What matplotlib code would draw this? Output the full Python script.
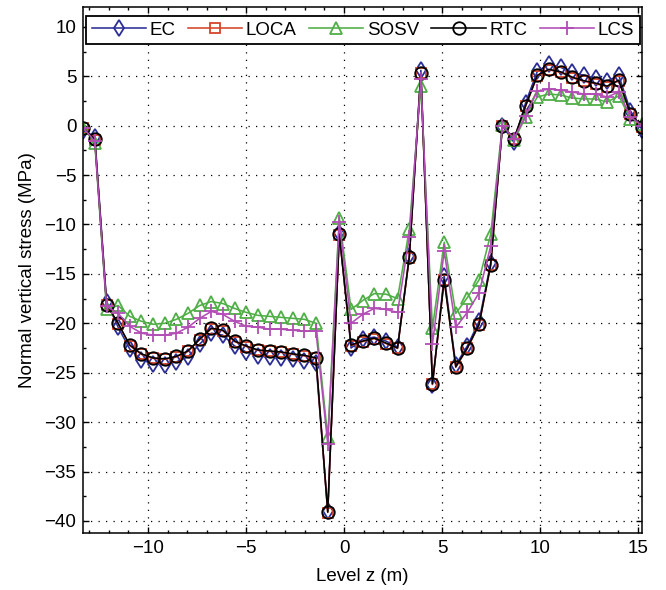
import matplotlib
matplotlib.use("Agg")
import matplotlib.pyplot as plt

plt.rcParams['font.family'] = ['Liberation Sans', 'DejaVu Sans']
plt.rcParams['font.size'] = 13.5

z = [-13.30, -12.71, -12.11, -11.52, -10.93, -10.33, -9.74, -9.14, -8.55, -7.96,
     -7.36, -6.77, -6.18, -5.58, -4.99, -4.39, -3.80, -3.21, -2.61, -2.02,
     -1.43, -0.83, -0.24, 0.36, 0.95, 1.54, 2.14, 2.73, 3.33, 3.92,
     4.51, 5.11, 5.70, 6.29, 6.89, 7.48, 8.08, 8.67, 9.26, 9.86,
     10.45, 11.05, 11.64, 12.23, 12.83, 13.42, 14.01, 14.61, 15.20]

ec = [-0.5, -1.1, -17.8, -20.4, -22.6, -23.7, -24.1, -24.2, -23.9, -23.4,
      -22.1, -21.0, -21.2, -22.3, -22.9, -23.3, -23.4, -23.5, -23.6, -23.8,
      -24.0, -39.0, -10.9, -22.5, -21.6, -21.4, -21.8, -22.4, -13.2, 5.6,
      -26.2, -15.2, -24.2, -22.3, -19.8, -13.9, 0.0, -1.7, 2.3, 5.5,
      6.2, 5.9, 5.4, 5.1, 4.8, 4.5, 5.1, 1.5, -0.4]

loca = [-0.25, -1.45, -18.1, -20.05, -22.25, -23.15, -23.55, -23.65, -23.4, -22.85,
        -21.65, -20.55, -20.75, -21.85, -22.35, -22.75, -22.85, -22.95, -23.15, -23.3,
        -23.55, -39.15, -11.05, -22.25, -21.85, -21.55, -22.05, -22.55, -13.35, 5.3,
        -26.15, -15.65, -24.45, -22.55, -20.15, -14.15, 0.0, -1.35, 1.95, 5.05,
        5.65, 5.4, 4.85, 4.5, 4.25, 3.95, 4.55, 1.15, -0.15]

sosv = [-0.2, -1.8, -18.6, -18.2, -19.3, -19.8, -20.1, -20.0, -19.6, -19.0,
        -18.2, -17.8, -18.0, -18.5, -18.9, -19.2, -19.3, -19.4, -19.5, -19.6,
        -20.0, -31.5, -9.3, -18.6, -17.7, -17.0, -17.05, -17.5, -10.5, 4.0,
        -20.5, -11.8, -19.0, -17.4, -15.6, -11.0, 0.1, -1.5, 0.85, 2.9,
        3.2, 3.1, 2.8, 2.7, 2.7, 2.4, 3.0, 0.7, 0.2]

rtc = [-0.2, -1.4, -18.1, -20.0, -22.2, -23.1, -23.5, -23.6, -23.35, -22.8,
       -21.6, -20.5, -20.7, -21.8, -22.3, -22.7, -22.8, -22.9, -23.1, -23.25,
       -23.5, -39.1, -11.0, -22.2, -21.8, -21.5, -22.0, -22.5, -13.3, 5.35,
       -26.1, -15.6, -24.4, -22.5, -20.1, -14.1, 0.0, -1.3, 2.0, 5.1,
       5.7, 5.45, 4.9, 4.55, 4.3, 4.0, 4.6, 1.2, -0.1]

lcs = [-0.2, -1.6, -18.3, -19.0, -20.3, -21.0, -21.2, -21.2, -21.0, -20.4,
       -19.5, -18.8, -19.1, -19.8, -20.3, -20.4, -20.6, -20.6, -20.7, -20.8,
       -20.8, -32.2, -9.7, -20.0, -19.1, -18.5, -18.6, -18.9, -11.3, 4.7,
       -22.1, -12.7, -20.4, -18.9, -16.9, -12.2, 0.0, -1.3, 1.0, 3.5,
       3.7, 3.6, 3.4, 3.2, 3.2, 2.9, 3.4, 0.9, 0.0]

labels = ['EC', 'LOCA', 'SOSV', 'RTC', 'LCS']
colors = ['#2b2e96', '#d5432b', '#4fae46', '#000000', '#b24db5']
markers = ['d', 's', '^', 'o', '+']
msizes = [8.5, 7, 9, 9, 10]
series = [ec, loca, sosv, rtc, lcs]

fig = plt.figure(figsize=(6.66, 5.90), dpi=100)
ax = fig.add_axes([0.125, 0.097, 0.839, 0.891])

for y, lab, c, m, ms in zip(series, labels, colors, markers, msizes):
    ax.plot(z, y, color=c, marker=m, markersize=ms, markerfacecolor='none',
            markeredgecolor=c, markeredgewidth=1.3, linewidth=1.15, label=lab)

ax.set_xlim(-13.3, 15.2)
ax.set_ylim(-41.2, 12.0)
ax.set_xticks([-10, -5, 0, 5, 10, 15])
ax.set_yticks([-40, -35, -30, -25, -20, -15, -10, -5, 0, 5, 10])
ax.set_xticks([v for v in range(-13, 16)], minor=True)
ax.set_yticks([-40 + 2.5 * k for k in range(21)], minor=True)
ax.tick_params(which='both', direction='in', top=True, right=True, width=1.0)
ax.tick_params(which='major', length=4, pad=5)
ax.tick_params(which='minor', length=2.5)
for s in ax.spines.values():
    s.set_linewidth(1.1)
ax.grid(True, which='major', color='black', linestyle=(0, (1, 5)), linewidth=0.9)
ax.set_axisbelow(True)

ax.set_xlabel('Level z (m)', labelpad=8)
ax.set_ylabel('Normal vertical stress (MPa)', labelpad=6)

leg = ax.legend(loc='upper left', bbox_to_anchor=(0.005, 0.0, 0.991, 0.983),
                mode='expand', ncol=5, handlelength=2.9, handletextpad=0.2,
                fancybox=False, framealpha=1, edgecolor='black',
                borderpad=0.3, borderaxespad=0.0, fontsize=13.5)
leg.get_frame().set_linewidth(1.3)

fig.savefig('out.png', dpi=100)
